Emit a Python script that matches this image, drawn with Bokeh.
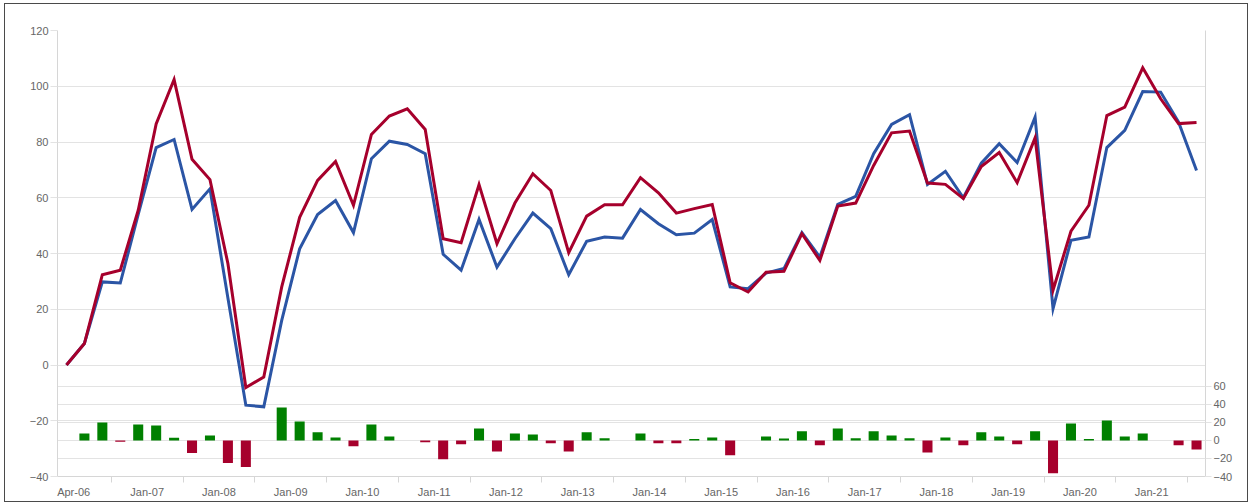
from bokeh.plotting import figure
from bokeh.models import Range1d, LinearAxis, FixedTicker, Grid, ColumnDataSource
from bokeh.embed import file_html
from bokeh.resources import INLINE

# ---------------- data ----------------
tick_labels = ["Apr-06", "Jan-07", "Jan-08", "Jan-09", "Jan-10", "Jan-11", "Jan-12", "Jan-13",
               "Jan-14", "Jan-15", "Jan-16", "Jan-17", "Jan-18", "Jan-19", "Jan-20", "Jan-21"]
label_pos = [0.4, 4.5, 8.5, 12.5, 16.5, 20.5, 24.5, 28.5, 32.5, 36.5, 40.5, 44.5, 48.5, 52.5, 56.5, 60.5]
boundary_pos = [2.5, 6.5, 10.5, 14.5, 18.5, 22.5, 26.5, 30.5, 34.5, 38.5, 42.5, 46.5, 50.5, 54.5, 58.5, 62.5]

blue_series = [0, 7.7, 29.8, 29.4, 54, 78, 80.9, 55.8, 63.2, 24,
               -14.4, -15, 16, 41.7, 54, 59, 47.5, 74, 80.3, 79.1,
               75.8, 39.7, 34, 52.2, 35.1, 45.3, 54.5, 48.9, 32.4, 44.4,
               45.9, 45.5, 55.8, 50.7, 46.7, 47.3, 52.2, 28, 27.4, 33,
               34.6, 47.5, 38.7, 57.6, 60.5, 75.8, 86.3, 89.8, 64.8, 69.5,
               60, 72.4, 79.4, 72.6, 88.9, 20.2, 44.7, 45.9, 78, 84.2,
               98.1, 97.9, 87.1, 69.8]

red_series = [0, 7.7, 32.4, 34, 55.5, 86.5, 102.4, 73.8, 66.5, 36.4,
              -8.1, -4.3, 28, 53, 66.2, 73, 57.3, 82.7, 89.3, 91.9,
              84.5, 45.3, 43.9, 64.7, 43.5, 58.1, 68.6, 62.6, 40.3, 53.4,
              57.5, 57.5, 67.2, 61.8, 54.5, 56.1, 57.6, 29.5, 26.2, 33.3,
              33.6, 47.1, 37.5, 57, 58.1, 71.6, 83.3, 83.9, 65.3, 64.8,
              59.7, 71.2, 76.2, 65.4, 81.5, 26.8, 48, 57.3, 89.5, 92.5,
              106.6, 95.5, 86.6, 87]

bar_series = [0, 7.75, 19.9, -1.5, 17.7, 16.6, 3, -14, 5.5, -25,
              -29.5, 0, 36.5, 21, 8.9, 3.3, -6.6, 17.7, 4.4, 0,
              -2.2, -21, -4.4, 13.3, -12.2, 7.75, 6.6, -3.3, -12.2, 8.9,
              2.5, 0, 7.75, -3.3, -3.3, 1.5, 3.3, -16.6, 0, 4.4,
              2.2, 10, -5.5, 13.3, 2.5, 10, 5.5, 2.5, -13.3, 3.3,
              -5.5, 8.9, 4.4, -4.4, 10, -36.5, 18.8, 1.5, 22, 4.4,
              7.75, 0, -5.5, -10]

left_ticks = [-40, -20, 0, 20, 40, 60, 80, 100, 120]
right_ticks = [-40, -20, 0, 20, 40, 60]

# ---------------- style ----------------
BLUE = "#2b55a5"
RED = "#a6002c"
GREEN = "#008000"
GRID = "#e3e3e3"
AXIS = "#d6d6d6"
TEXT = "#666666"
FONT = "Liberation Sans"

x = list(range(len(blue_series)))
bar_colors = [GREEN if v >= 0 else RED for v in bar_series]

p = figure(frame_width=1148, frame_height=446,
           x_range=Range1d(-0.5, len(x) - 0.5), y_range=Range1d(-40, 120),
           output_backend="svg", toolbar_location=None,
           min_border_left=52, min_border_right=42, min_border_top=26, min_border_bottom=25)
p.margin = (3, 0, 0, 4)
p.styles = {"border": "1px solid #4a4a4a"}
p.extra_y_ranges = {"right": Range1d(-40, 454)}
p.outline_line_color = None
p.background_fill_color = "white"
p.border_fill_color = "white"

# x axis
xa = p.xaxis[0]
xa.ticker = FixedTicker(ticks=label_pos, minor_ticks=boundary_pos)
xa.major_label_overrides = {pos: lab for pos, lab in zip(label_pos, tick_labels)}
xa.major_tick_out = 0
xa.major_tick_in = 0
xa.minor_tick_out = 6
xa.minor_tick_in = 0
xa.minor_tick_line_color = AXIS
xa.axis_line_color = AXIS
xa.axis_line_width = 1
xa.major_label_standoff = 3
xa.major_label_text_font = FONT
xa.major_label_text_font_size = "11px"
xa.major_label_text_color = TEXT
p.xgrid.visible = False

# left axis
ya = p.yaxis[0]
ya.ticker = FixedTicker(ticks=left_ticks)
ya.major_tick_out = 7
ya.major_tick_in = 0
ya.minor_tick_out = 0
ya.minor_tick_in = 0
ya.major_tick_line_color = GRID
ya.axis_line_color = AXIS
ya.major_label_standoff = 2
ya.major_label_text_font = FONT
ya.major_label_text_font_size = "11px"
ya.major_label_text_color = TEXT
p.ygrid.grid_line_color = GRID
p.ygrid.grid_line_width = 1

# right axis
ra = LinearAxis(y_range_name="right", ticker=FixedTicker(ticks=right_ticks))
ra.major_tick_out = 6
ra.major_tick_in = 0
ra.minor_tick_out = 0
ra.minor_tick_in = 0
ra.major_tick_line_color = GRID
ra.axis_line_color = AXIS
ra.major_label_standoff = 2
ra.major_label_text_font = FONT
ra.major_label_text_font_size = "11px"
ra.major_label_text_color = TEXT
p.add_layout(ra, "right")
rgrid = Grid(dimension=1, ticker=FixedTicker(ticks=right_ticks), y_range_name="right",
             grid_line_color=GRID, grid_line_width=1)
p.add_layout(rgrid, "center")

# bars
bsrc = ColumnDataSource(dict(x=x, top=bar_series, color=bar_colors))
p.vbar(x="x", top="top", bottom=0, width=0.56, fill_color="color", line_color=None,
       y_range_name="right", source=bsrc)

# lines
p.line(x, blue_series, line_color=BLUE, line_width=3, line_join="miter")
p.line(x, red_series, line_color=RED, line_width=3, line_join="miter")

open("out.html", "w").write(file_html(p, INLINE))
